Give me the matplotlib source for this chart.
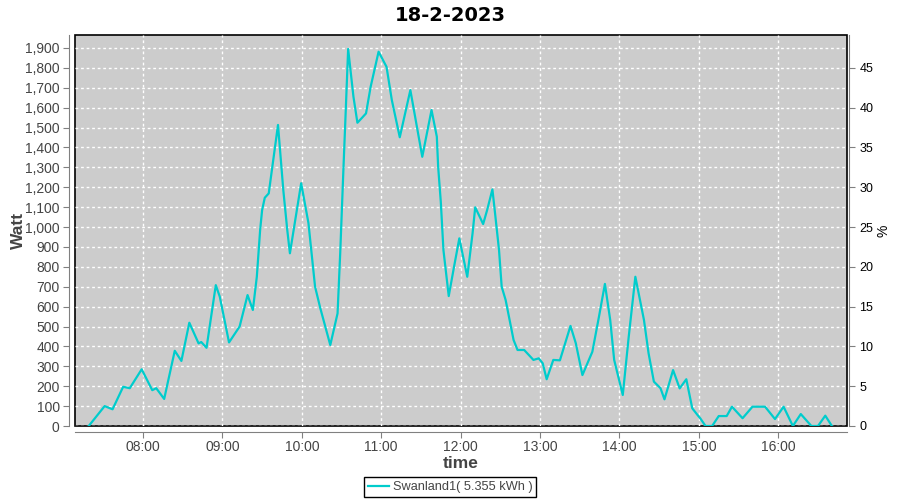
import matplotlib
matplotlib.use("Agg")
import matplotlib.pyplot as plt
import matplotlib.dates as mdates
import pandas as pd

# readings taken off the chart (time of day, watt)
times = ["07:19", "07:31", "07:37", "07:45", "07:50", "07:59", "08:07", "08:10",
         "08:16", "08:24", "08:29", "08:35", "08:42", "08:44", "08:48", "08:55",
         "08:58", "09:05", "09:13", "09:19", "09:23", "09:26", "09:28:30", "09:30",
         "09:32", "09:35", "09:42", "09:46", "09:49", "09:51", "09:59:30", "10:05",
         "10:10", "10:14", "10:21:30", "10:27", "10:29", "10:31:30", "10:33", "10:35",
         "10:39", "10:42", "10:45:30", "10:48:30", "10:52", "10:58", "11:04", "11:08",
         "11:14", "11:22", "11:31", "11:38", "11:42", "11:43", "11:45", "11:47",
         "11:51", "11:55", "11:59", "12:05", "12:09", "12:11", "12:17", "12:20",
         "12:24", "12:26", "12:29", "12:31", "12:34", "12:36", "12:40", "12:43",
         "12:48", "12:51:30", "12:55", "12:59", "13:02", "13:05", "13:10", "13:15",
         "13:23", "13:27", "13:32", "13:39:30", "13:44:30", "13:49", "13:53", "13:56",
         "14:02:30", "14:07", "14:12", "14:18:30", "14:22", "14:26", "14:31", "14:34",
         "14:40:30", "14:45:30", "14:50:30", "14:55", "14:59", "15:01", "15:05", "15:10",
         "15:15", "15:21", "15:25", "15:33", "15:40:30", "15:50", "15:57:30", "16:04",
         "16:11", "16:17", "16:25", "16:30", "16:35:30", "16:40:30"]
watt = [0, 100, 84, 197, 190, 285, 180, 190,
        136, 378, 327, 519, 415, 422, 393, 708,
        650, 420, 500, 658, 583, 750, 985, 1085,
        1147, 1169, 1513, 1186, 985, 868, 1220, 1020,
        700, 591, 407, 566, 868, 1303, 1554, 1895,
        1655, 1524, 1549, 1571, 1705, 1881, 1805, 1638,
        1451, 1688, 1353, 1588, 1454, 1303, 1127, 884,
        653, 800, 943, 750, 968, 1099, 1015, 1085,
        1189, 1069, 884, 700, 633, 566, 432, 382,
        382, 357, 332, 340, 315, 235, 332, 330,
        503, 416, 256, 373, 549, 714, 533, 332,
        156, 449, 750, 533, 365, 223, 190, 134,
        281, 189, 235, 89, 55, 39, 0, 0,
        50, 50, 97, 39, 97, 97, 35, 97,
        0, 60, 0, 0, 52, 0]

title = "18-2-2023"
series_name = "Swanland1( 5.355 kWh )"
watt_per_percent = 40

plt.rcParams["font.family"] = ["Liberation Sans", "DejaVu Sans"]

day = "2023-02-18 "
t = pd.to_datetime([day + s for s in times], format="mixed")

fig = plt.figure(figsize=(9, 5), dpi=100)
ax = fig.add_axes([0.0833, 0.148, 0.8575, 0.782])
ax.set_facecolor("#cccccc")

ax.plot(t, watt, color="#00cccc", lw=1.6, label=series_name, zorder=3)

ax.set_xlim(pd.Timestamp(day + "07:08:36"), pd.Timestamp(day + "16:51:42"))
ax.set_ylim(0, 1965)
ax.set_yticks(range(0, 2000, 100))
ax.yaxis.set_major_formatter(matplotlib.ticker.StrMethodFormatter("{x:,.0f}"))
ax.xaxis.set_major_locator(mdates.HourLocator())
ax.xaxis.set_major_formatter(mdates.DateFormatter("%H:%M"))

ax.grid(True, color="white", ls=(0, (2, 2)), lw=1)
ax.set_axisbelow(True)

ax.patch.set_edgecolor("black")
ax.patch.set_linewidth(1.2)
for side in ["top", "right"]:
    ax.spines[side].set_visible(False)
for side in ["left", "bottom"]:
    ax.spines[side].set_position(("outward", 4))
    ax.spines[side].set_color("#808080")
ax.tick_params(colors="#808080", labelcolor="#444444", labelsize=10, length=4, pad=3)
ax.tick_params(axis="x", pad=2)

ax.set_ylabel("Watt", fontsize=12.5, fontweight="bold", color="#444444")
ax.yaxis.set_label_coords(-0.063, 0.5)
ax.set_xlabel("time", fontsize=12.5, fontweight="bold", color="#444444")
ax.xaxis.set_label_coords(0.5, -0.078)

ax2 = ax.twinx()
ax2.set_ylim(0, 1965 / watt_per_percent)
ax2.set_yticks(range(0, 50, 5))
for side in ["top", "left", "bottom"]:
    ax2.spines[side].set_visible(False)
ax2.spines["right"].set_position(("outward", 2))
ax2.spines["right"].set_color("#808080")
ax2.tick_params(colors="#808080", labelcolor="black", labelsize=9, length=4, pad=3)
ax2.set_ylabel("%", fontsize=10, color="black")
ax2.yaxis.set_label_coords(1.039, 0.5)

fig.suptitle(title, fontsize=14, fontweight="bold", y=0.988, family="DejaVu Sans")

leg = fig.legend(loc="center", bbox_to_anchor=(0.5, 0.026), fancybox=False,
                 edgecolor="black", framealpha=1, fontsize=9.2, handlelength=1.7,
                 handletextpad=0.25, borderpad=0.3, borderaxespad=0)
leg.get_frame().set_linewidth(1)
for txt in leg.get_texts():
    txt.set_color("#444444")

fig.savefig("out.png", dpi=100)
